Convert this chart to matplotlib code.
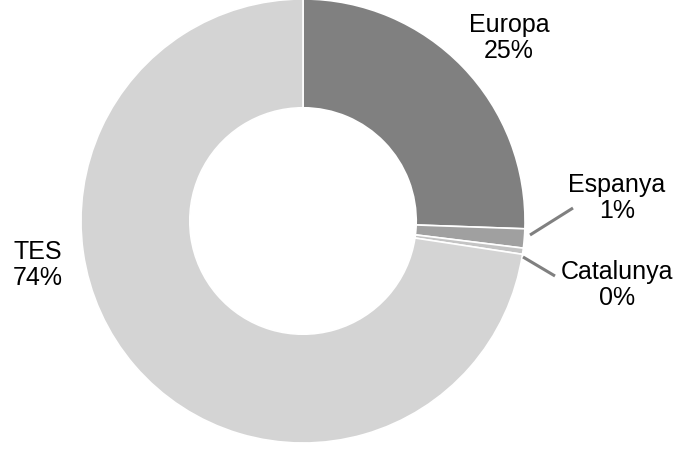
import matplotlib
matplotlib.use("Agg")
import matplotlib.pyplot as plt

categories = ["Europa", "Espanya", "Catalunya", "TES"]
values = [25.7, 1.4, 0.45, 73.0]
pct_labels = ["25%", "1%", "0%", "74%"]
colors = ["#808080", "#a0a0a0", "#c4c4c4", "#d4d4d4"]

W, H = 680, 470
fig = plt.figure(figsize=(W/100, H/100), dpi=100)
cx, cy, R = 303, 221, 222
ax = fig.add_axes([(cx-R)/W, (H-cy-R)/H, 2*R/W, 2*R/H])
ax.pie(values, colors=colors, startangle=90, counterclock=False,
       radius=1.0, wedgeprops=dict(width=0.49, edgecolor="white", linewidth=1.2))
ax.set_xlim(-1, 1)
ax.set_ylim(-1, 1)
ax.set_aspect("equal")
ax.axis("off")

def P(px, py):
    return ((px-cx)/R, (cy-py)/R)

labels = [f"{c}\n{p}" for c, p in zip(categories, pct_labels)]
pos = [(509, 38), (617, 198), (617, 285), (38, 265)]
fs = 18
for lab, (px, py) in zip(labels, pos):
    x, y = P(px, py)
    ax.text(x, y, lab, ha="center", va="center", fontsize=fs,
            family="Liberation Sans", linespacing=1.15, clip_on=False)

# leader lines
for (x0, y0), (x1, y1) in [((530, 235), (573, 208)), ((523, 257), (555, 276))]:
    a, b = P(x0, y0); c, d = P(x1, y1)
    ax.plot([a, c], [b, d], color="#808080", lw=2.2, clip_on=False, solid_capstyle="butt")

fig.savefig("out.png", dpi=100)
